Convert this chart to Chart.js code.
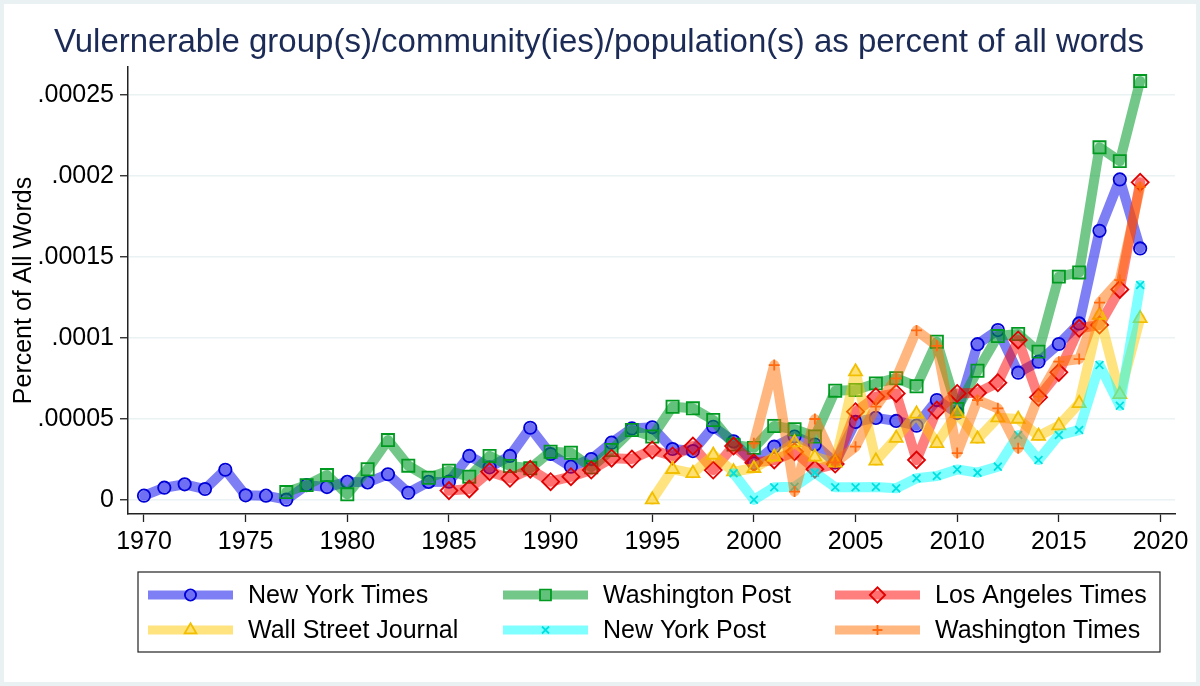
<!DOCTYPE html>
<html>
<head>
<meta charset="utf-8">
<title>Vulnerable group words by newspaper</title>
<script src="https://cdn.jsdelivr.net/npm/chart.js@4.4.1/dist/chart.umd.min.js"></script>
<style>
  html, body { margin: 0; padding: 0; background: #fff; }
  #chart { display: block; }
</style>
</head>
<body>
<canvas id="chart" width="1200" height="686"></canvas>
<script>
/* Share of words about vulnerable groups, six US newspapers, 1970-2019 */

const FONT = "'Liberation Sans', Arial, Helvetica, sans-serif";

const chartTitle = "Vulernerable group(s)/community(ies)/population(s) as percent of all words";
const yTitle = "Percent of All Words";

const xTicks = [1970, 1975, 1980, 1985, 1990, 1995, 2000, 2005, 2010, 2015, 2020];
const yTicks = [0, 0.00005, 0.0001, 0.00015, 0.0002, 0.00025];
const yTickLabels = ["0", ".00005", ".0001", ".00015", ".0002", ".00025"];

const seriesNames = [
  "New York Times", "Washington Post", "Los Angeles Times",
  "Wall Street Journal", "New York Post", "Washington Times",
];
const seriesStart = [1970, 1977, 1985, 1995, 1999, 2000];

// one value per year from the series' first year
const nyt = [
  2.5e-6, 7.4e-6, 9.5e-6, 6.6e-6, 1.85e-5, 2.7e-6, 2.5e-6, 0, 9.0e-6, 7.8e-6,
  1.1e-5, 1.07e-5, 1.57e-5, 4.3e-6, 1.1e-5, 1.11e-5, 2.7e-5, 2.0e-5, 2.7e-5, 4.44e-5,
  2.82e-5, 2.04e-5, 2.51e-5, 3.52e-5, 4.4e-5, 4.47e-5, 3.13e-5, 3.0e-5, 4.5e-5, 3.6e-5,
  2.25e-5, 3.27e-5, 3.9e-5, 3.4e-5, 2.3e-5, 4.8e-5, 5.05e-5, 4.86e-5, 4.57e-5, 6.15e-5,
  5.35e-5, 9.6e-5, 1.047e-4, 7.84e-5, 8.52e-5, 9.61e-5, 1.088e-4, 1.66e-4, 1.977e-4, 1.551e-4,
];
const wapo = [
  4.7e-6, 9.0e-6, 1.52e-5, 3.3e-6, 1.88e-5, 3.68e-5, 2.1e-5, 1.36e-5, 1.79e-5, 1.42e-5,
  2.7e-5, 2.08e-5, 1.94e-5, 2.96e-5, 2.9e-5, 2.0e-5, 3.07e-5, 4.3e-5, 3.9e-5, 5.74e-5,
  5.64e-5, 4.92e-5, 3.4e-5, 3.2e-5, 4.55e-5, 4.35e-5, 3.9e-5, 6.73e-5, 6.77e-5, 7.18e-5,
  7.5e-5, 7.0e-5, 9.75e-5, 5.6e-5, 7.96e-5, 1.01e-4, 1.023e-4, 9.14e-5, 1.377e-4, 1.403e-4,
  2.175e-4, 2.09e-4, 2.584e-4,
];
const lat = [
  5.6e-6, 6.6e-6, 1.73e-5, 1.32e-5, 1.88e-5, 1.11e-5, 1.42e-5, 1.83e-5, 2.56e-5, 2.51e-5,
  3.07e-5, 2.7e-5, 3.31e-5, 1.83e-5, 3.31e-5, 2.28e-5, 2.45e-5, 2.96e-5, 1.88e-5, 2.2e-5,
  5.43e-5, 6.36e-5, 6.56e-5, 2.45e-5, 5.53e-5, 6.56e-5, 6.6e-5, 7.22e-5, 9.86e-5, 6.32e-5,
  7.86e-5, 1.058e-4, 1.078e-4, 1.298e-4, 1.959e-4,
];
const wsj = [
  0, 1.88e-5, 1.63e-5, 2.76e-5, 1.73e-5, 1.94e-5, 2.65e-5, 3.52e-5, 2.64e-5, 2.28e-5,
  7.9e-5, 2.4e-5, 3.8e-5, 5.3e-5, 3.48e-5, 5.33e-5, 3.75e-5, 5.06e-5, 4.98e-5, 3.93e-5,
  4.57e-5, 5.95e-5, 1.14e-4, 6.5e-5, 1.119e-4,
];
const nypost = [
  1.63e-5, 0, 7.7e-6, 8.0e-6, 1.67e-5, 7.7e-6, 7.7e-6, 7.8e-6, 7.0e-6, 1.32e-5,
  1.46e-5, 1.87e-5, 1.67e-5, 2.04e-5, 3.99e-5, 2.45e-5, 3.99e-5, 4.3e-5, 8.31e-5, 5.8e-5,
  1.325e-4,
];
const wtimes = [
  3.48e-5, 8.31e-5, 5.0e-6, 4.98e-5, 2.3e-5, 3.27e-5, 5.74e-5, 7.49e-5, 1.045e-4, 9.5e-5,
  2.88e-5, 6.15e-5, 5.64e-5, 3.17e-5, 6.36e-5, 8.52e-5, 8.68e-5, 1.216e-4, 1.356e-4, 1.93e-4,
];

const seriesValues = [nyt, wapo, lat, wsj, nypost, wtimes];

// ── Looks ───────────────────────────────────────────────────

const seriesStyles = [
  { line: "rgba(0,0,235,0.5)",   fill: "rgba(0,0,235,0.12)",   edge: "#0000d8", marker: "circle",   r: 6.2 },
  { line: "rgba(0,155,40,0.55)", fill: "rgba(0,155,40,0.14)",  edge: "#009a20", marker: "rect",     r: 8.6 },
  { line: "rgba(255,0,0,0.5)",   fill: "rgba(255,0,0,0.12)",   edge: "#e00000", marker: "rectRot",  r: 8.5 },
  { line: "rgba(255,200,0,0.5)", fill: "rgba(255,200,0,0.12)", edge: "#f2bf00", marker: "triangle", r: 7.5 },
  { line: "rgba(0,255,255,0.5)", fill: "rgba(0,255,255,0.12)", edge: "#00e0e0", marker: "crossRot", r: 5.5 },
  { line: "rgba(255,110,0,0.5)", fill: "rgba(255,110,0,0.12)", edge: "#ff6a10", marker: "cross",    r: 5.5 },
];

const legendLineX = [148, 503, 835];
const legendTextX = [248, 603, 935];
const legendRowY = [595, 630];

function points(start, values) {
  return values.map((v, i) => ({ x: start + i, y: v }));
}

// ── Plugins: frame, title, legend ───────────────────────────

const framePlugin = {
  id: "frame",
  beforeDraw(chart) {
    const { ctx, width, height } = chart;
    ctx.save();
    ctx.fillStyle = "#e9f1f3";
    ctx.fillRect(0, 0, width, height);
    ctx.fillStyle = "#ffffff";
    ctx.fillRect(4, 4, width - 8, height - 8);
    ctx.restore();
  },
};

const titlePlugin = {
  id: "stataTitle",
  afterDraw(chart) {
    const ctx = chart.ctx;
    ctx.save();
    ctx.font = "33px " + FONT;
    ctx.fillStyle = "#1b2b56";
    ctx.textAlign = "center";
    ctx.textBaseline = "middle";
    ctx.fillText(chartTitle, 599, 43);
    ctx.restore();
  },
};

const legendPlugin = {
  id: "stataLegend",
  afterDraw(chart) {
    const ctx = chart.ctx;
    ctx.save();
    ctx.strokeStyle = "#222";
    ctx.lineWidth = 1.2;
    ctx.strokeRect(138, 572, 1022, 80);

    chart.data.datasets.forEach((ds, i) => {
      const col = i % 3;
      const y = legendRowY[Math.floor(i / 3)];
      const x0 = legendLineX[col];
      const x1 = x0 + 85;

      ctx.strokeStyle = ds.borderColor;
      ctx.lineWidth = 9;
      ctx.lineCap = "butt";
      ctx.beginPath();
      ctx.moveTo(x0, y);
      ctx.lineTo(x1, y);
      ctx.stroke();

      ctx.fillStyle = ds.pointBackgroundColor;
      ctx.strokeStyle = ds.pointBorderColor;
      ctx.lineWidth = 1.8;
      Chart.helpers.drawPoint(ctx, {
        pointStyle: ds.pointStyle,
        radius: ds.pointRadius * 0.9,
        borderWidth: 1.8,
        rotation: 0,
      }, (x0 + x1) / 2, y);

      ctx.fillStyle = "#000";
      ctx.font = "25px " + FONT;
      ctx.textAlign = "left";
      ctx.textBaseline = "middle";
      ctx.fillText(ds.label, legendTextX[col], y + 1);
    });
    ctx.restore();
  },
};

// ── Chart ───────────────────────────────────────────────────

const datasets = seriesNames.map((name, i) => {
  const s = seriesStyles[i];
  return {
    label: name,
    data: points(seriesStart[i], seriesValues[i]),
    borderColor: s.line,
    backgroundColor: s.line,
    borderWidth: 10,
    borderJoinStyle: "round",
    borderCapStyle: "round",
    tension: 0,
    fill: false,
    pointStyle: s.marker,
    pointRadius: s.r,
    pointBorderWidth: 1.8,
    pointBorderColor: s.edge,
    pointBackgroundColor: s.fill,
    order: seriesNames.length - i,
  };
});

new Chart(document.getElementById("chart"), {
  type: "line",
  data: { datasets },
  plugins: [framePlugin, titlePlugin, legendPlugin],
  options: {
    responsive: false,
    animation: false,
    events: [],
    layout: { padding: { left: 4, right: 25, top: 67, bottom: 132 } },
    plugins: {
      legend: { display: false },
      title: { display: false },
      tooltip: { enabled: false },
    },
    scales: {
      x: {
        type: "linear",
        min: 1969.213,
        max: 2020.714,
        afterBuildTicks: scale => { scale.ticks = xTicks.map(v => ({ value: v })); },
        afterFit: scale => { scale.height = 40; },
        grid: { drawOnChartArea: false, tickColor: "#222", tickLength: 8, tickWidth: 1.3 },
        border: { display: true, color: "#222", width: 1.5 },
        ticks: {
          color: "#000",
          padding: 5,
          maxRotation: 0,
          font: { family: FONT, size: 25 },
          callback: v => String(v),
        },
      },
      y: {
        type: "linear",
        min: -0.00000883,
        max: 0.0002671,
        afterBuildTicks: scale => { scale.ticks = yTicks.map(v => ({ value: v })); },
        afterFit: scale => { scale.width = 124; },
        grid: { color: "#eaf2f3", lineWidth: 1.5, tickColor: "#222", tickLength: 8, tickWidth: 1.3 },
        border: { display: true, color: "#222", width: 1.5 },
        ticks: {
          color: "#000",
          padding: 6,
          font: { family: FONT, size: 25 },
          callback: v => yTickLabels[yTicks.indexOf(v)],
        },
        title: {
          display: true,
          text: yTitle,
          color: "#000",
          padding: { top: 5, bottom: 0 },
          font: { family: FONT, size: 25 },
        },
      },
    },
  },
});
</script>
</body>
</html>
